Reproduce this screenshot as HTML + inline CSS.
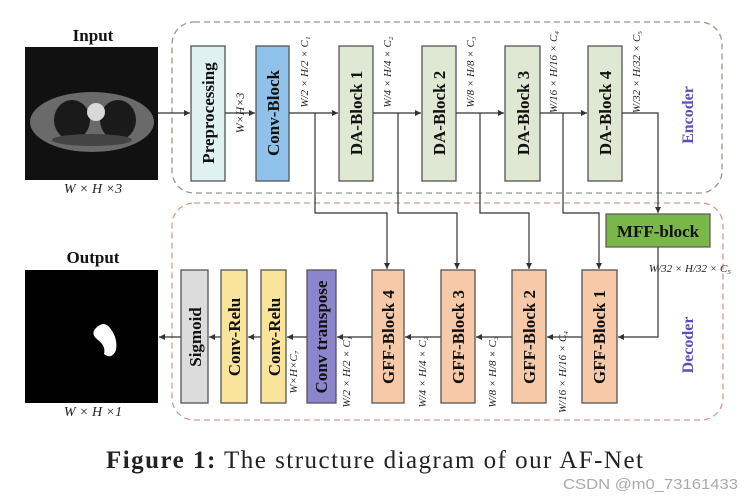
<!DOCTYPE html>
<html><head><meta charset="utf-8"><style>
html,body{margin:0;padding:0;background:#fff;}
svg{display:block;}
.b{font-family:"Liberation Serif",serif;font-weight:bold;font-size:17px;fill:#111;}
.f{font-family:"Liberation Serif",serif;font-style:italic;font-size:10px;fill:#222;}
</style></head><body>
<svg width="754" height="501" viewBox="0 0 754 501" xmlns="http://www.w3.org/2000/svg">
<defs>
<marker id="a" markerWidth="6" markerHeight="6" refX="5" refY="3" orient="auto"><path d="M0,0.5 L5,3 L0,5.5 z" fill="#333"/></marker>
</defs>
<rect width="754" height="501" fill="#fff"/>
<rect x="172" y="22" width="550" height="171" rx="22" fill="#fff" stroke="#8f9c84" stroke-width="1.3" stroke-dasharray="6,4"/>
<rect x="172" y="203" width="551" height="217" rx="22" fill="#fff" stroke="#d69a8a" stroke-width="1.3" stroke-dasharray="6,4"/>

<text x="93" y="41" text-anchor="middle" class="b">Input</text>
<rect x="25" y="47" width="133" height="133" fill="#111"/>
<ellipse cx="92" cy="122" rx="62" ry="30" fill="#6a6a6a"/>
<ellipse cx="72" cy="120" rx="18" ry="20" fill="#1a1a1a"/>
<ellipse cx="118" cy="120" rx="18" ry="20" fill="#1a1a1a"/>
<ellipse cx="96" cy="112" rx="9" ry="9" fill="#d8d8d8"/>
<ellipse cx="92" cy="140" rx="40" ry="6" fill="#444"/>
<text x="93" y="193" text-anchor="middle" style="font-family:'Liberation Serif',serif;font-style:italic;font-size:14px;fill:#222">W × H ×3</text>

<text x="93" y="263" text-anchor="middle" class="b">Output</text>
<rect x="25" y="270" width="133" height="133" fill="#000"/>
<path d="M96,328 q8,-8 14,0 q8,10 6,22 q-4,10 -12,4 q2,-8 -6,-14 q-8,-6 -2,-12z" fill="#fff"/>
<text x="93" y="416" text-anchor="middle" style="font-family:'Liberation Serif',serif;font-style:italic;font-size:14px;fill:#222">W × H ×1</text>

<rect x="191" y="46" width="34" height="135" fill="#dff1f1" stroke="#555" stroke-width="1.3"/>
<rect x="256" y="46" width="33" height="135" fill="#8fc1ea" stroke="#555" stroke-width="1.3"/>
<rect x="339" y="46" width="34" height="135" fill="#dfe8d2" stroke="#555" stroke-width="1.3"/>
<rect x="422" y="46" width="34" height="135" fill="#dfe8d2" stroke="#555" stroke-width="1.3"/>
<rect x="505" y="46" width="35" height="135" fill="#dfe8d2" stroke="#555" stroke-width="1.3"/>
<rect x="588" y="46" width="34" height="135" fill="#dfe8d2" stroke="#555" stroke-width="1.3"/>
<text transform="translate(214,113) rotate(-90)" text-anchor="middle" class="b">Preprocessing</text>
<text transform="translate(279,113) rotate(-90)" text-anchor="middle" class="b">Conv-Block</text>
<text transform="translate(362,113) rotate(-90)" text-anchor="middle" class="b">DA-Block 1</text>
<text transform="translate(445,113) rotate(-90)" text-anchor="middle" class="b">DA-Block 2</text>
<text transform="translate(529,113) rotate(-90)" text-anchor="middle" class="b">DA-Block 3</text>
<text transform="translate(611,113) rotate(-90)" text-anchor="middle" class="b">DA-Block 4</text>

<g stroke="#333" stroke-width="1.2" fill="none">
<line x1="158" y1="113" x2="190" y2="113" marker-end="url(#a)"/>
<line x1="225" y1="113" x2="255" y2="113" marker-end="url(#a)"/>
<line x1="289" y1="113" x2="338" y2="113" marker-end="url(#a)"/>
<line x1="373" y1="113" x2="421" y2="113" marker-end="url(#a)"/>
<line x1="456" y1="113" x2="504" y2="113" marker-end="url(#a)"/>
<line x1="540" y1="113" x2="587" y2="113" marker-end="url(#a)"/>
<polyline points="622,113 658,113 658,213" marker-end="url(#a)"/>
<polyline points="315,113 315,213 387,213 387,269" marker-end="url(#a)"/>
<polyline points="398,113 398,213 457,213 457,269" marker-end="url(#a)"/>
<polyline points="480,113 480,213 529,213 529,269" marker-end="url(#a)"/>
<polyline points="563,113 563,213 599,213 599,269" marker-end="url(#a)"/>
<polyline points="658,247 658,337 618,337" marker-end="url(#a)"/>
<line x1="582" y1="337" x2="547" y2="337" marker-end="url(#a)"/>
<line x1="512" y1="337" x2="476" y2="337" marker-end="url(#a)"/>
<line x1="441" y1="337" x2="405" y2="337" marker-end="url(#a)"/>
<line x1="372" y1="337" x2="337" y2="337" marker-end="url(#a)"/>
<line x1="307" y1="337" x2="287" y2="337" marker-end="url(#a)"/>
<line x1="261" y1="337" x2="248" y2="337" marker-end="url(#a)"/>
<line x1="221" y1="337" x2="209" y2="337" marker-end="url(#a)"/>
<line x1="181" y1="337" x2="159" y2="337" marker-end="url(#a)"/>
</g>

<text transform="translate(244,113) rotate(-90)" text-anchor="middle" class="f" style="font-size:12px">W×H×3</text>
<text transform="translate(308,72) rotate(-90)" text-anchor="middle" class="f" style="font-size:11px">W/2 × H/2 × C₁</text>
<text transform="translate(391,72) rotate(-90)" text-anchor="middle" class="f" style="font-size:11px">W/4 × H/4 × C₂</text>
<text transform="translate(474,72) rotate(-90)" text-anchor="middle" class="f" style="font-size:11px">W/8 × H/8 × C₃</text>
<text transform="translate(557,72) rotate(-90)" text-anchor="middle" class="f" style="font-size:11px">W/16 × H/16 × C₄</text>
<text transform="translate(640,72) rotate(-90)" text-anchor="middle" class="f" style="font-size:11px">W/32 × H/32 × C₅</text>
<text transform="translate(693,115) rotate(-90)" text-anchor="middle" style="font-family:'Liberation Serif',serif;font-weight:bold;font-size:16px;fill:#5a4fb5">Encoder</text>

<rect x="606" y="214" width="104" height="33" fill="#7ab648" stroke="#555" stroke-width="1.2"/>
<text x="658" y="237" text-anchor="middle" class="b">MFF-block</text>
<text x="690" y="272" text-anchor="middle" class="f" style="font-size:11px">W/32 × H/32 × C₅</text>

<rect x="372" y="270" width="32" height="133" fill="#f6c9a9" stroke="#555" stroke-width="1.3"/>
<rect x="441" y="270" width="34" height="133" fill="#f6c9a9" stroke="#555" stroke-width="1.3"/>
<rect x="512" y="270" width="34" height="133" fill="#f6c9a9" stroke="#555" stroke-width="1.3"/>
<rect x="582" y="270" width="35" height="133" fill="#f6c9a9" stroke="#555" stroke-width="1.3"/>
<rect x="307" y="270" width="29" height="133" fill="#8b85cc" stroke="#555" stroke-width="1.3"/>
<rect x="261" y="270" width="25" height="133" fill="#f9e49b" stroke="#555" stroke-width="1.3"/>
<rect x="221" y="270" width="26" height="133" fill="#f9e49b" stroke="#555" stroke-width="1.3"/>
<rect x="181" y="270" width="27" height="133" fill="#dcdcdc" stroke="#555" stroke-width="1.3"/>
<text transform="translate(394,337) rotate(-90)" text-anchor="middle" class="b">GFF-Block 4</text>
<text transform="translate(464,337) rotate(-90)" text-anchor="middle" class="b">GFF-Block 3</text>
<text transform="translate(535,337) rotate(-90)" text-anchor="middle" class="b">GFF-Block 2</text>
<text transform="translate(605,337) rotate(-90)" text-anchor="middle" class="b">GFF-Block 1</text>
<text transform="translate(327,337) rotate(-90)" text-anchor="middle" class="b">Conv transpose</text>
<text transform="translate(280,337) rotate(-90)" text-anchor="middle" class="b">Conv-Relu</text>
<text transform="translate(240,337) rotate(-90)" text-anchor="middle" class="b">Conv-Relu</text>
<text transform="translate(201,337) rotate(-90)" text-anchor="middle" class="b">Sigmoid</text>

<text transform="translate(297,372) rotate(-90)" text-anchor="middle" class="f" style="font-size:11px">W×H×C₇</text>
<text transform="translate(350,372) rotate(-90)" text-anchor="middle" class="f" style="font-size:11px">W/2 × H/2 × C₁</text>
<text transform="translate(426,372) rotate(-90)" text-anchor="middle" class="f" style="font-size:11px">W/4 × H/4 × C₂</text>
<text transform="translate(496,372) rotate(-90)" text-anchor="middle" class="f" style="font-size:11px">W/8 × H/8 × C₃</text>
<text transform="translate(566,372) rotate(-90)" text-anchor="middle" class="f" style="font-size:11px">W/16 × H/16 × C₄</text>
<text transform="translate(693,345) rotate(-90)" text-anchor="middle" style="font-family:'Liberation Serif',serif;font-weight:bold;font-size:16px;fill:#5a4fb5">Decoder</text>

<text x="106" y="468" textLength="537" lengthAdjust="spacing" style="font-family:'Liberation Serif',serif;font-size:25px;fill:#222"><tspan font-weight="bold">Figure 1:</tspan> The structure diagram of our AF-Net</text>
<text x="563" y="489" textLength="175" lengthAdjust="spacingAndGlyphs" style="font-family:'Liberation Sans',sans-serif;font-size:15px;fill:#aaa">CSDN @m0_73161433</text>
</svg>
</body></html>
